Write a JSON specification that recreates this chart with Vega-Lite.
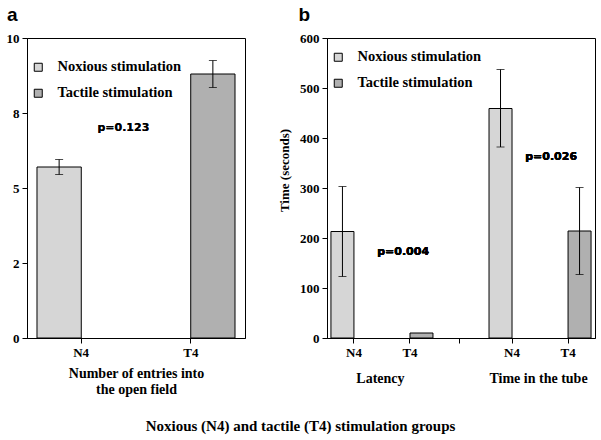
{
  "$schema": "https://vega.github.io/schema/vega-lite/v6.json",
  "background": "white",
  "padding": 5,
  "spacing": 32,
  "title": {
    "text": "Noxious (N4) and tactile (T4) stimulation groups",
    "orient": "bottom",
    "anchor": "middle",
    "font": "Liberation Serif",
    "fontSize": 15,
    "fontWeight": "bold",
    "color": "black",
    "offset": 22
  },
  "datasets": {
    "entries": [
      {"cat": "N4", "group": "Noxious stimulation", "value": 5.7, "lo": 5.45, "hi": 5.95},
      {"cat": "T4", "group": "Tactile stimulation", "value": 8.8, "lo": 8.35, "hi": 9.25}
    ],
    "times": [
      {"cat": "Latency N4", "group": "Noxious stimulation", "value": 213, "lo": 123, "hi": 303},
      {"cat": "Latency T4", "group": "Tactile stimulation", "value": 10, "lo": null, "hi": null},
      {"cat": "Time in the tube N4", "group": "Noxious stimulation", "value": 459, "lo": 382, "hi": 537},
      {"cat": "Time in the tube T4", "group": "Tactile stimulation", "value": 214, "lo": 127, "hi": 301}
    ]
  },
  "resolve": {"scale": {"color": "independent"}, "legend": {"color": "independent"}},
  "hconcat": [
    {
      "width": 218,
      "height": 300,
      "title": {"text": "a", "anchor": "start", "frame": "bounds", "font": "Liberation Sans", "fontSize": 19, "fontWeight": "bold", "color": "black", "dx": 1, "offset": 7},
      "data": {"name": "entries"},
      "resolve": {"axis": {"x": "independent"}},
      "layer": [
        {
          "mark": {"type": "bar", "stroke": "black", "strokeWidth": 1},
          "encoding": {
            "x": {"field": "cat", "type": "nominal", "sort": ["N4", "T4"],
              "scale": {"domain": ["N4", "T4"], "paddingInner": 0.712, "paddingOuter": 0.065},
              "axis": {"values": ["N4"], "bandPosition": 1, "labelOffset": 22, "labelAngle": 0, "orient": "bottom",
                "title": ["Number of entries into", "the open field"], "titlePadding": 7, "titleLineHeight": 16}},
            "y": {"field": "value", "type": "quantitative",
              "scale": {"domain": [0, 10], "nice": false},
              "axis": {"values": [0, 2.5, 5, 7.5, 10], "title": null,
                "labelExpr": "datum.value == 2.5 ? '2' : datum.value == 7.5 ? '8' : datum.label"}},
            "color": {"field": "group", "type": "nominal",
              "scale": {"domain": ["Noxious stimulation", "Tactile stimulation"], "range": ["#d6d6d6", "#b0b0b0"]},
              "legend": {"title": null, "orient": "none", "legendX": 4, "legendY": 22}}
          }
        },
        {
          "mark": {"type": "rule", "color": "black", "strokeWidth": 1},
          "encoding": {
            "x": {"field": "cat", "type": "nominal",
              "axis": {"values": ["T4"], "bandPosition": 0, "labelOffset": -22, "labelAngle": 0, "orient": "bottom", "domain": false, "title": null}},
            "y": {"field": "lo", "type": "quantitative"},
            "y2": {"field": "hi"}
          }
        },
        {
          "mark": {"type": "tick", "color": "black", "thickness": 1, "size": 8},
          "encoding": {
            "x": {"field": "cat", "type": "nominal", "axis": null},
            "y": {"field": "hi", "type": "quantitative"}
          }
        },
        {
          "mark": {"type": "tick", "color": "black", "thickness": 1, "size": 8},
          "encoding": {
            "x": {"field": "cat", "type": "nominal", "axis": null},
            "y": {"field": "lo", "type": "quantitative"}
          }
        },
        {
          "mark": {"type": "text", "text": "p=0.123", "font": "DejaVu Sans", "fontSize": 11, "fontWeight": "bold", "color": "black"},
          "encoding": {
            "x": {"datum": "N4", "type": "nominal", "bandPosition": 1.95, "axis": null},
            "y": {"datum": 7, "type": "quantitative"}
          }
        }
      ]
    },
    {
      "width": 268,
      "height": 300,
      "title": {"text": "b", "anchor": "start", "frame": "bounds", "font": "Liberation Sans", "fontSize": 19, "fontWeight": "bold", "color": "black", "dx": 20, "offset": 7},
      "data": {"name": "times"},
      "resolve": {"axis": {"x": "independent"}},
      "layer": [
        {
          "mark": {"type": "bar", "stroke": "black", "strokeWidth": 1},
          "encoding": {
            "x": {"field": "cat", "type": "nominal",
              "scale": {"domain": ["Latency N4", "Latency T4", "Time in the tube N4", "Time in the tube T4"], "paddingInner": 0.709, "paddingOuter": 0.05},
              "axis": {"values": ["Latency N4", "Time in the tube N4"], "bandPosition": 1, "labelOffset": 11.5, "labelAngle": 0, "orient": "bottom",
                "labelExpr": "slice(datum.label, -2)", "title": null}},
            "y": {"field": "value", "type": "quantitative",
              "scale": {"domain": [0, 600], "nice": false},
              "axis": {"values": [0, 100, 200, 300, 400, 500, 600], "title": "Time (seconds)", "titleFontSize": 13, "titlePadding": 8, "titleY": 132}},
            "color": {"field": "group", "type": "nominal",
              "scale": {"domain": ["Noxious stimulation", "Tactile stimulation"], "range": ["#d6d6d6", "#b0b0b0"]},
              "legend": {"title": null, "orient": "none", "legendX": 4, "legendY": 12}}
          }
        },
        {
          "mark": {"type": "rule", "color": "black", "strokeWidth": 1},
          "encoding": {
            "x": {"field": "cat", "type": "nominal",
              "axis": {"values": ["Latency T4", "Time in the tube T4"], "bandPosition": 0, "labelOffset": -11.5, "labelAngle": 0, "orient": "bottom", "domain": false,
                "labelExpr": "slice(datum.label, -2)", "title": null}},
            "y": {"field": "lo", "type": "quantitative"},
            "y2": {"field": "hi"}
          }
        },
        {
          "mark": {"type": "tick", "color": "black", "thickness": 1, "size": 8},
          "encoding": {
            "x": {"field": "cat", "type": "nominal",
              "axis": {"values": ["Latency T4"], "bandPosition": 2.17, "labels": false, "orient": "bottom", "domain": false, "title": null}},
            "y": {"field": "hi", "type": "quantitative"}
          }
        },
        {
          "mark": {"type": "tick", "color": "black", "thickness": 1, "size": 8},
          "encoding": {
            "x": {"field": "cat", "type": "nominal",
              "axis": {"values": ["Latency N4", "Time in the tube N4"], "bandPosition": 2.2, "labelOffset": 38, "ticks": false, "domain": false, "orient": "bottom",
                "labelAngle": 0, "labelExpr": "slice(datum.label, 0, -3)", "labelPadding": 33, "labelFontSize": 14, "title": null}},
            "y": {"field": "lo", "type": "quantitative"}
          }
        },
        {
          "mark": {"type": "text", "text": "p=0.004", "font": "DejaVu Sans", "fontSize": 11, "fontWeight": "bold", "color": "black"},
          "encoding": {
            "x": {"datum": "Latency T4", "type": "nominal", "bandPosition": -0.3, "axis": null},
            "y": {"datum": 173, "type": "quantitative"}
          }
        },
        {
          "mark": {"type": "text", "text": "p=0.026", "font": "DejaVu Sans", "fontSize": 11, "fontWeight": "bold", "color": "black"},
          "encoding": {
            "x": {"datum": "Time in the tube N4", "type": "nominal", "bandPosition": 2.7, "axis": null},
            "y": {"datum": 363, "type": "quantitative"}
          }
        }
      ]
    }
  ],
  "config": {
    "view": {"stroke": "black", "strokeWidth": 1},
    "axis": {
      "grid": false,
      "domainColor": "black",
      "tickColor": "black",
      "tickSize": 5,
      "labelColor": "black",
      "titleColor": "black",
      "labelFont": "Liberation Serif",
      "labelFontSize": 13,
      "labelFontWeight": "bold",
      "labelPadding": 3,
      "titleFont": "Liberation Serif",
      "titleFontSize": 14,
      "titleFontWeight": "bold"
    },
    "legend": {
      "symbolType": "square",
      "symbolSize": 64,
      "symbolStrokeColor": "black",
      "symbolStrokeWidth": 1,
      "symbolOpacity": 1,
      "labelFont": "Liberation Serif",
      "labelFontSize": 14.5,
      "labelFontWeight": "bold",
      "labelColor": "black",
      "labelOffset": 12,
      "rowPadding": 11
    }
  }
}
